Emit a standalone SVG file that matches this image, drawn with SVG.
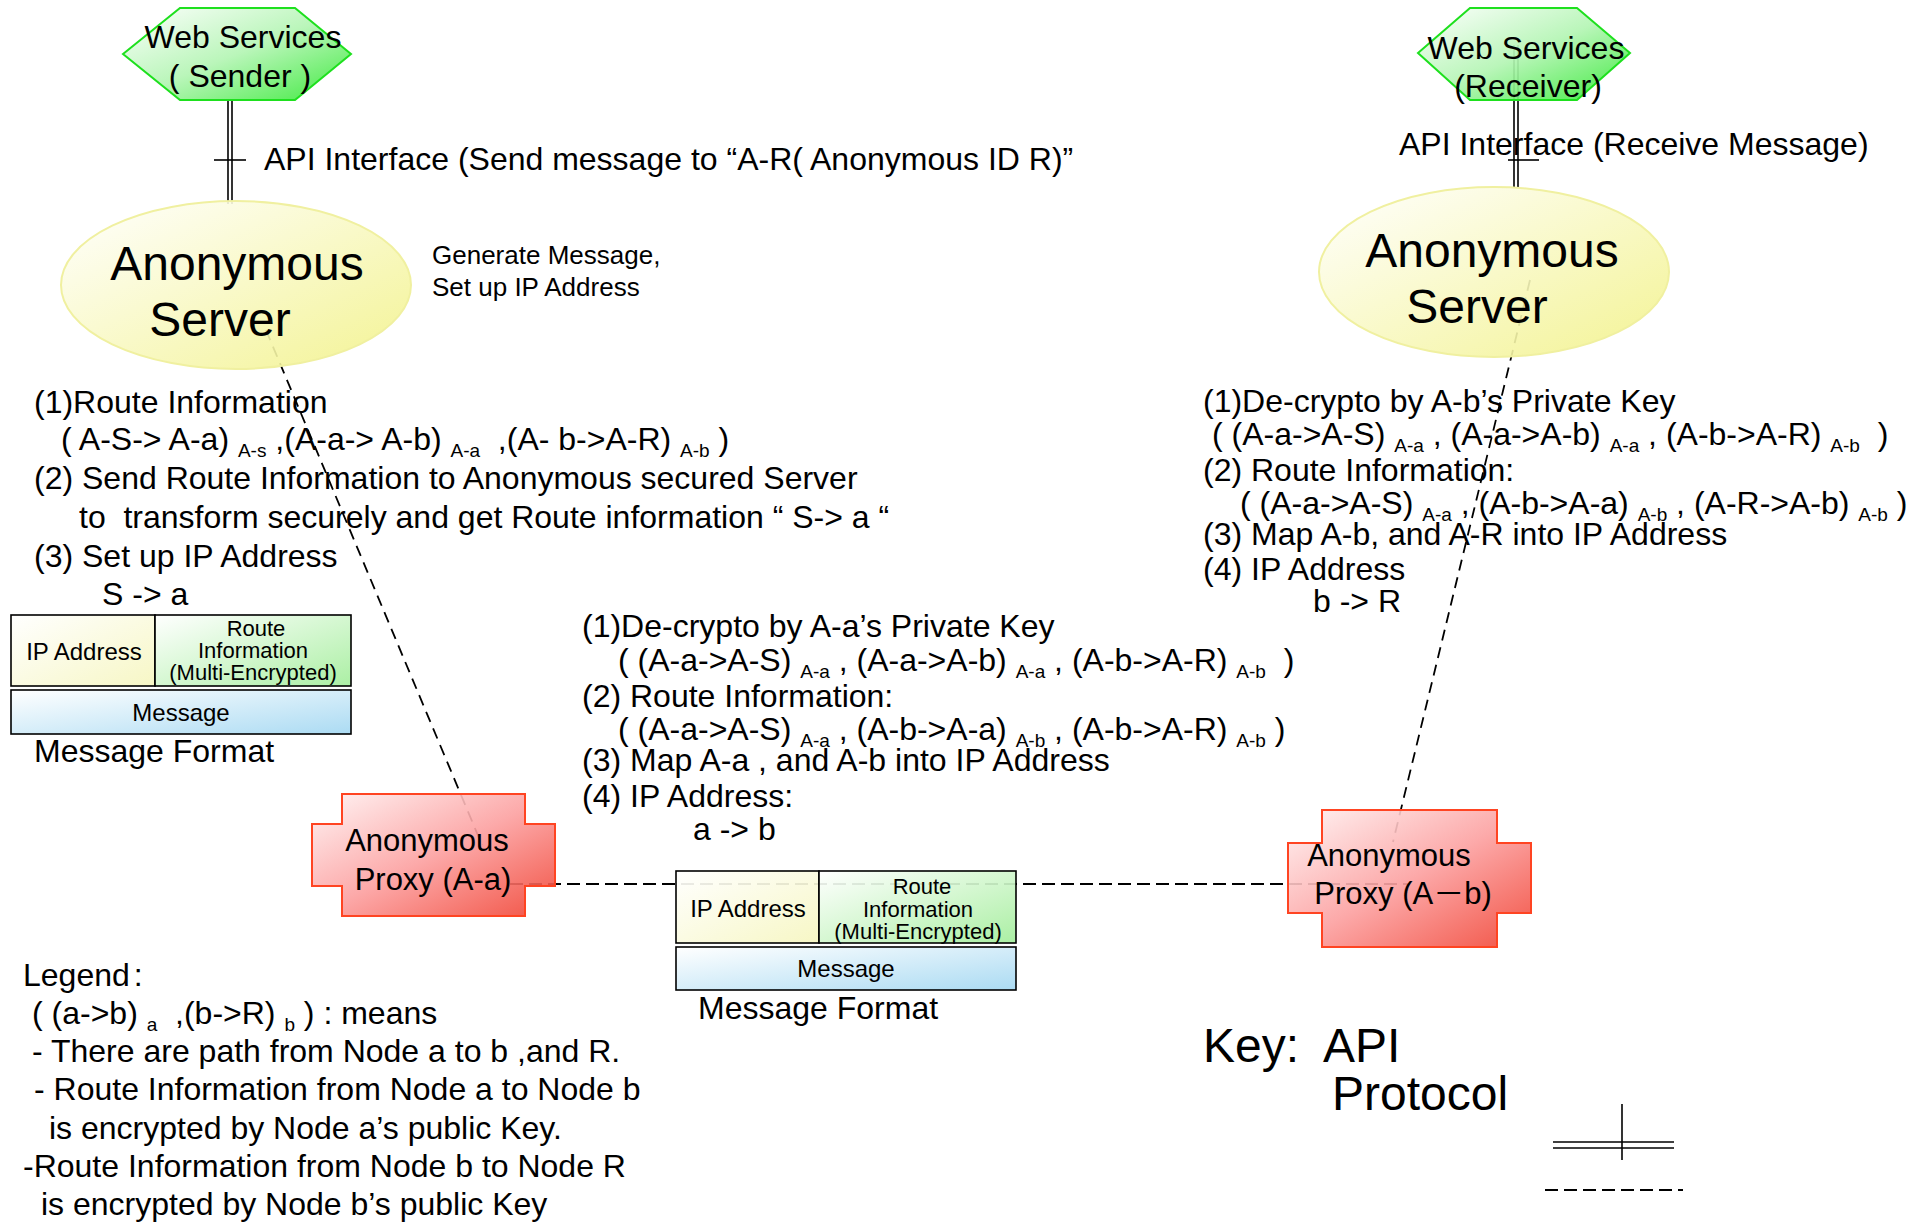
<svg xmlns="http://www.w3.org/2000/svg" width="1928" height="1225" viewBox="0 0 1928 1225">
<defs>
<linearGradient id="gHex" x1="0" y1="0" x2="1" y2="1"><stop offset="0" stop-color="#ffffff"/><stop offset="0.5" stop-color="#b4f5b4"/><stop offset="1" stop-color="#30e830"/></linearGradient>
<linearGradient id="gEll" x1="0" y1="0" x2="1" y2="1"><stop offset="0" stop-color="#ffffff"/><stop offset="1" stop-color="#f2f288"/></linearGradient>
<linearGradient id="gProxy" x1="0" y1="0" x2="1" y2="1"><stop offset="0" stop-color="#fff4f4"/><stop offset="0.5" stop-color="#fca0a0"/><stop offset="1" stop-color="#f04030"/></linearGradient>
<linearGradient id="gIP" x1="0" y1="0" x2="1" y2="1"><stop offset="0" stop-color="#ffffff"/><stop offset="1" stop-color="#f6f6c0"/></linearGradient>
<linearGradient id="gRoute" x1="0" y1="0" x2="1" y2="1"><stop offset="0" stop-color="#ffffff"/><stop offset="1" stop-color="#a4ee9c"/></linearGradient>
<linearGradient id="gMsg" x1="0" y1="0" x2="1" y2="1"><stop offset="0" stop-color="#ffffff"/><stop offset="1" stop-color="#a4d8f2"/></linearGradient>
</defs>
<style>
text{font-family:"Liberation Sans",Arial,sans-serif;fill:#000;white-space:pre}
.t32{font-size:32px}
.t48{font-size:48px}
.t31{font-size:31px}
.t26{font-size:26px}
.t24{font-size:24px}
.t23{font-size:22px}
.sub{font-size:19px}
.mid{text-anchor:middle}
.hex{fill:url(#gHex);fill-opacity:0.92;stroke:#1ee01e;stroke-width:2}
.ell{fill:url(#gEll);fill-opacity:0.9;stroke:#f0f0a0;stroke-width:2}
.proxy{fill:url(#gProxy);fill-opacity:0.9;stroke:#ff4422;stroke-width:2}
.cell{stroke:#000;stroke-width:1.6;fill-opacity:0.92}
.api{stroke:#000;stroke-width:1.6;fill:none}
.dash{stroke:#000;stroke-width:1.8;fill:none;stroke-dasharray:11 7}
.dashh{stroke:#000;stroke-width:2.2;fill:none;stroke-dasharray:13 6}
</style>
<rect width="1928" height="1225" fill="#fff"/>

<g id="connectors">
<line class="api" x1="228" y1="100" x2="228" y2="204"/>
<line class="api" x1="232" y1="100" x2="232" y2="204"/>
<line class="api" x1="214" y1="160" x2="246" y2="160"/>
<line class="api" x1="1514" y1="45" x2="1514" y2="188"/>
<line class="api" x1="1518" y1="45" x2="1518" y2="188"/>
<line class="api" x1="1508" y1="160" x2="1539" y2="160"/>
<line class="dash" x1="266" y1="330" x2="482" y2="845"/>
<line class="dash" x1="1530" y1="280" x2="1393" y2="842"/>
<line class="dashh" x1="510" y1="884" x2="1410" y2="884"/>
</g>

<g id="ws-sender">
<polygon class="hex" points="123,54 180,8 295,8 351,54 295,100 180,100"/>
<text class="t32 mid" x="243" y="48">Web Services</text>
<text class="t32 mid" x="240" y="87">( Sender )</text>
</g>
<g id="ws-receiver">
<polygon class="hex" points="1418,53 1470,8 1577,8 1630,53 1577,100 1470,100"/>
<text class="t32 mid" x="1526" y="59">Web Services</text>
<text class="t32 mid" x="1528" y="97">(Receiver)</text>
</g>

<g id="api-labels">
<text class="t32" x="264" y="170">API Interface (Send message to “A-R( Anonymous ID R)”</text>
<text class="t32" x="1399" y="155">API Interface (Receive Message)</text>
</g>

<g id="server-left">
<ellipse class="ell" cx="236" cy="285" rx="175" ry="84"/>
<text class="t48 mid" x="237" y="280">Anonymous</text>
<text class="t48 mid" x="220" y="336">Server</text>
</g>
<g id="server-right">
<ellipse class="ell" cx="1494" cy="272" rx="175" ry="85"/>
<text class="t48 mid" x="1492" y="267">Anonymous</text>
<text class="t48 mid" x="1477" y="323">Server</text>
</g>

<g id="generate-note">
<text class="t26" x="432" y="264">Generate Message,</text>
<text class="t26" x="432" y="296">Set up IP Address</text>
</g>

<g id="sender-steps">
<text class="t32" x="34" y="413">(1)Route Information</text>
<text class="t32" x="61" y="450">( A-S-&gt; A-a) <tspan class="sub" dy="7">A-s</tspan><tspan dy="-7"> ,(A-a-&gt; A-b) </tspan><tspan class="sub" dy="7">A-a</tspan><tspan dy="-7">  ,(A- b-&gt;A-R) </tspan><tspan class="sub" dy="7">A-b</tspan><tspan dy="-7"> )</tspan></text>
<text class="t32" x="34" y="489">(2) Send Route Information to Anonymous secured Server</text>
<text class="t32" x="79" y="528">to  transform securely and get Route information “ S-&gt; a “</text>
<text class="t32" x="34" y="567">(3) Set up IP Address</text>
<text class="t32" x="102" y="605">S -&gt; a</text>
</g>

<g id="msgformat-left">
<rect class="cell" x="11" y="615" width="144" height="71" fill="url(#gIP)"/>
<rect class="cell" x="155" y="615" width="196" height="71" fill="url(#gRoute)"/>
<rect class="cell" x="11" y="690" width="340" height="44" fill="url(#gMsg)"/>
<text class="t24 mid" x="84" y="660">IP Address</text>
<text class="t23 mid" x="256" y="636">Route</text>
<text class="t23 mid" x="253" y="658">Information</text>
<text class="t23 mid" x="253" y="680">(Multi-Encrypted)</text>
<text class="t24 mid" x="181" y="721">Message</text>
<text class="t32" x="34" y="762">Message Format</text>
</g>

<g id="proxy-aa">
<path class="proxy" d="M342,794 H525 V824 H555 V886 H525 V916 H342 V886 H312 V824 H342 Z"/>
<text class="t31 mid" x="427" y="851">Anonymous</text>
<text class="t31 mid" x="433" y="890">Proxy (A-a)</text>
</g>

<g id="proxy-ab">
<path class="proxy" d="M1322,810 H1497 V843 H1531 V913 H1497 V947 H1322 V913 H1288 V843 H1322 Z"/>
<text class="t31 mid" x="1389" y="866">Anonymous</text>
<text class="t31 mid" x="1403" y="904" style="font-family:'Liberation Sans','Noto Sans CJK JP',sans-serif">Proxy (A－b)</text>
</g>

<g id="proxy-a-steps">
<text class="t32" x="582" y="637">(1)De-crypto by A-a’s Private Key</text>
<text class="t32" x="618" y="671">( (A-a-&gt;A-S) <tspan class="sub" dy="7">A-a</tspan><tspan dy="-7"> , (A-a-&gt;A-b) </tspan><tspan class="sub" dy="7">A-a</tspan><tspan dy="-7"> , (A-b-&gt;A-R) </tspan><tspan class="sub" dy="7">A-b</tspan><tspan dy="-7">  )</tspan></text>
<text class="t32" x="582" y="707">(2) Route Information:</text>
<text class="t32" x="618" y="740">( (A-a-&gt;A-S) <tspan class="sub" dy="7">A-a</tspan><tspan dy="-7"> , (A-b-&gt;A-a) </tspan><tspan class="sub" dy="7">A-b</tspan><tspan dy="-7"> , (A-b-&gt;A-R) </tspan><tspan class="sub" dy="7">A-b</tspan><tspan dy="-7"> )</tspan></text>
<text class="t32" x="582" y="771">(3) Map A-a , and A-b into IP Address</text>
<text class="t32" x="582" y="807">(4) IP Address:</text>
<text class="t32" x="693" y="840">a -&gt; b</text>
</g>

<g id="msgformat-mid">
<rect class="cell" x="676" y="871" width="143" height="72" fill="url(#gIP)"/>
<rect class="cell" x="819" y="871" width="197" height="72" fill="url(#gRoute)"/>
<rect class="cell" x="676" y="947" width="340" height="43" fill="url(#gMsg)"/>
<text class="t24 mid" x="748" y="917">IP Address</text>
<text class="t23 mid" x="922" y="894">Route</text>
<text class="t23 mid" x="918" y="917">Information</text>
<text class="t23 mid" x="918" y="939">(Multi-Encrypted)</text>
<text class="t24 mid" x="846" y="977">Message</text>
<text class="t32" x="698" y="1019">Message Format</text>
</g>

<g id="proxy-b-steps">
<text class="t32" x="1203" y="412">(1)De-crypto by A-b’s Private Key</text>
<text class="t32" x="1212" y="445">( (A-a-&gt;A-S) <tspan class="sub" dy="7">A-a</tspan><tspan dy="-7"> , (A-a-&gt;A-b) </tspan><tspan class="sub" dy="7">A-a</tspan><tspan dy="-7"> , (A-b-&gt;A-R) </tspan><tspan class="sub" dy="7">A-b</tspan><tspan dy="-7">  )</tspan></text>
<text class="t32" x="1203" y="481">(2) Route Information:</text>
<text class="t32" x="1240" y="514">( (A-a-&gt;A-S) <tspan class="sub" dy="7">A-a</tspan><tspan dy="-7"> , (A-b-&gt;A-a) </tspan><tspan class="sub" dy="7">A-b</tspan><tspan dy="-7"> , (A-R-&gt;A-b) </tspan><tspan class="sub" dy="7">A-b</tspan><tspan dy="-7"> )</tspan></text>
<text class="t32" x="1203" y="545">(3) Map A-b, and A-R into IP Address</text>
<text class="t32" x="1203" y="580">(4) IP Address</text>
<text class="t32" x="1313" y="612">b -&gt; R</text>
</g>

<g id="legend">
<text class="t32" x="23" y="986">Legend<tspan dx="4">:</tspan></text>
<text class="t32" x="32" y="1024">( (a-&gt;b) <tspan class="sub" dy="7">a</tspan><tspan dy="-7">  ,(b-&gt;R) </tspan><tspan class="sub" dy="7">b</tspan><tspan dy="-7"> ) : means</tspan></text>
<text class="t32" x="32" y="1062">- There are path from Node a to b ,and R.</text>
<text class="t32" x="34" y="1100">- Route Information from Node a to Node b</text>
<text class="t32" x="49" y="1139">is encrypted by Node a’s public Key.</text>
<text class="t32" x="23" y="1177">-Route Information from Node b to Node R</text>
<text class="t32" x="41" y="1215">is encrypted by Node b’s public Key</text>
</g>

<g id="key">
<text class="t48" x="1203" y="1062">Key:  API</text>
<text class="t48" x="1332" y="1110">Protocol</text>
<line class="api" x1="1553" y1="1142" x2="1674" y2="1142"/>
<line class="api" x1="1553" y1="1148" x2="1674" y2="1148"/>
<line class="api" x1="1622" y1="1104" x2="1622" y2="1160"/>
<line class="dashh" x1="1545" y1="1190" x2="1683" y2="1190"/>
</g>
</svg>
